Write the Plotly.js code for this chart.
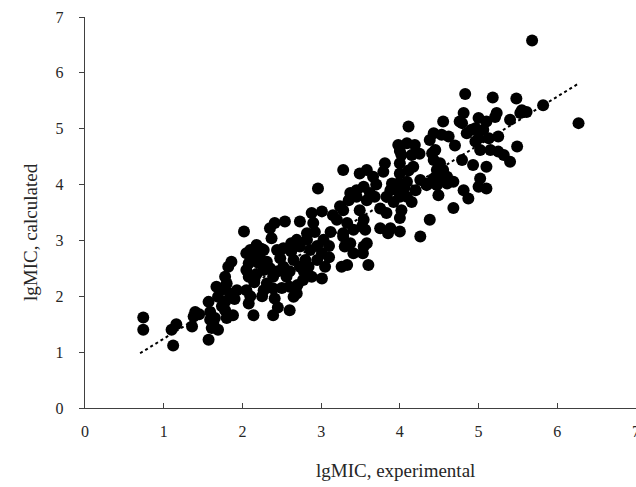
<!DOCTYPE html>
<html>
<head>
<meta charset="utf-8">
<script src="https://cdn.plot.ly/plotly-3.0.1.min.js"></script>
<style>html,body{margin:0;padding:0;background:#fff;}#chart{width:636px;height:487px;}</style>
</head>
<body>
<div id="chart"></div>
<script>
// lgMIC experimental (x) vs calculated (y)
const expX = [
0.74,0.74,1.12,1.10,1.16,1.36,1.38,1.40,1.45,1.57,1.57,1.59,1.59,1.61,1.65,1.69,1.63,1.72,1.80,1.78,
1.82,1.86,1.69,1.78,1.78,1.80,1.88,1.74,1.67,1.93,1.84,1.90,2.02,2.05,2.10,2.08,2.08,2.05,2.08,2.14,
2.05,2.10,2.18,2.27,2.37,2.35,2.41,2.54,2.44,2.52,2.48,2.31,2.27,2.31,2.39,2.52,2.39,2.41,2.39,2.60,
2.56,2.60,2.69,2.77,2.73,2.65,2.73,2.69,2.73,2.88,3.01,2.90,2.86,2.84,2.88,3.03,3.01,3.05,3.01,3.24,
3.28,3.30,3.26,2.82,2.82,2.27,2.65,2.20,2.22,2.35,2.45,2.60,2.62,2.80,2.78,2.95,2.95,3.10,3.10,2.96,
2.92,2.45,2.62,2.70,2.15,2.25,2.50,2.12,2.18,2.24,
3.28,3.35,3.49,3.58,3.66,3.54,3.45,3.81,3.79,3.98,4.09,4.19,4.02,4.15,4.00,4.00,3.98,3.88,3.83,3.75,
3.83,3.92,4.00,4.09,4.15,4.02,4.00,3.68,3.75,3.88,4.00,4.26,4.38,4.49,4.38,4.45,4.43,4.47,4.36,4.51,
4.60,3.28,3.33,3.28,3.41,3.49,3.58,3.54,3.56,3.58,3.54,3.37,3.33,3.60,3.52,3.41,3.53,3.20,3.37,3.45,
3.90,3.96,4.09,3.85,3.62,3.70,4.11,4.06,3.15,3.12,4.00,
4.11,4.55,4.81,4.79,5.00,5.10,4.96,5.06,5.13,5.00,5.23,5.40,5.53,5.25,5.49,5.02,5.15,5.25,5.32,5.40,
4.93,5.10,4.79,4.43,4.53,4.62,4.41,4.51,4.55,4.60,4.43,4.34,4.47,4.68,4.81,4.87,5.00,5.10,5.02,4.68,
4.83,5.18,5.48,5.82,5.55,5.61,5.21,4.76,4.91,4.85,4.96,4.26,4.17,5.68,6.27,4.70,4.25,4.20
];
const calcY = [
1.62,1.40,1.12,1.40,1.50,1.46,1.64,1.72,1.68,1.22,1.90,1.72,1.58,1.43,1.61,1.40,1.52,2.11,2.23,2.35,
2.53,2.62,1.99,1.90,1.75,1.61,1.66,1.82,2.17,2.11,2.05,1.95,3.16,2.77,2.83,2.59,2.35,2.11,1.87,1.66,
2.47,2.00,2.92,2.83,3.04,3.22,3.31,3.34,2.83,2.86,2.68,2.62,2.47,2.23,2.35,2.53,2.14,1.96,1.66,1.75,
2.35,2.17,2.05,2.29,2.53,2.65,2.89,3.01,3.34,3.49,3.52,3.31,2.83,2.53,2.35,3.01,2.77,2.53,2.32,3.61,
3.13,2.89,2.53,3.13,3.01,2.11,1.99,2.60,2.75,2.50,2.45,2.45,2.80,2.65,2.45,2.65,2.90,2.70,2.90,3.93,
3.15,1.80,2.95,2.20,2.25,2.00,2.15,2.70,2.40,2.85,
4.26,3.72,4.20,4.26,4.14,3.96,3.90,4.38,4.23,4.71,4.74,4.71,4.53,4.53,4.38,4.20,4.02,3.90,3.78,3.57,
3.49,3.69,3.78,3.78,3.69,3.54,3.40,3.78,3.22,3.22,3.16,3.07,3.37,3.81,4.80,4.62,4.44,4.26,4.02,4.08,
4.02,3.54,3.31,3.07,3.19,3.54,3.72,3.37,3.19,2.95,2.89,2.95,2.56,2.56,3.25,2.77,2.77,3.37,3.85,3.78,
4.02,3.90,4.05,3.13,3.85,4.00,4.25,3.95,3.45,3.15,4.60,
5.04,5.13,5.28,5.10,5.19,5.13,5.01,4.98,4.83,4.83,5.28,5.16,5.28,4.86,4.68,4.62,4.62,4.59,4.53,4.41,
4.35,4.32,4.44,4.92,4.89,4.86,4.56,4.38,4.26,4.14,4.11,3.99,3.99,4.05,3.90,3.75,3.96,3.93,4.11,3.58,
5.62,5.56,5.54,5.42,5.33,5.30,5.21,5.13,4.98,4.92,4.77,4.08,4.32,6.58,5.10,4.70,4.55,3.90
];
// linear trend line end points
const trendX = [0.70, 6.26];
const trendY = [0.98, 5.80];

const tickVals = [0,1,2,3,4,5,6,7];
const tickText = ['0','1','2','3','4','5','6','7'];
const xTitle = 'lgMIC, experimental';
const yTitle = 'lgMIC, calculated';

const serif = 'Liberation Serif, Times New Roman, serif';
const txtColor = '#262626';

const data = [
  {x: expX, y: calcY, type: 'scatter', mode: 'markers',
   marker: {color: '#000000', size: 12, line: {width: 0}}, cliponaxis: false, hoverinfo: 'x+y'},
  {x: trendX, y: trendY, type: 'scatter', mode: 'lines',
   line: {color: '#000000', width: 2, dash: 'dot'}, hoverinfo: 'skip'}
];

const layout = {
  width: 636, height: 487,
  margin: {l: 85, r: 0, t: 17, b: 79},
  paper_bgcolor: '#ffffff', plot_bgcolor: '#ffffff',
  showlegend: false,
  font: {family: serif, size: 16, color: txtColor},
  xaxis: {range: [0, 7], tickvals: tickVals, ticktext: tickText, showgrid: false, zeroline: false,
    showline: true, linecolor: '#404040', linewidth: 1.3, ticks: 'inside', ticklen: 5, tickcolor: '#404040',
    ticklabelstandoff: 8, tickfont: {family: serif, size: 16, color: txtColor}, fixedrange: true},
  yaxis: {range: [0, 7], tickvals: tickVals, ticktext: tickText, showgrid: false, zeroline: false,
    showline: true, linecolor: '#404040', linewidth: 1.3, ticks: 'outside', ticklen: 5, tickcolor: '#404040',
    ticklabelstandoff: 12, tickfont: {family: serif, size: 16, color: txtColor}, fixedrange: true},
  annotations: [
    {text: tickText[7], xref: 'x', yref: 'paper', x: tickVals[7], y: -(431-408)/391,
     xanchor: 'center', yanchor: 'middle', showarrow: false, font: {family: serif, size: 16, color: txtColor}},
    {text: xTitle, xref: 'paper', yref: 'paper', x: (395-85)/551, y: -(470-408)/391,
     xanchor: 'center', yanchor: 'middle', showarrow: false, font: {family: serif, size: 19, color: txtColor}},
    {text: yTitle, xref: 'paper', yref: 'paper', x: -(85-30)/551, y: (408-232)/391, textangle: -90,
     xanchor: 'center', yanchor: 'middle', showarrow: false, font: {family: serif, size: 19, color: txtColor}}
  ]
};

Plotly.newPlot('chart', data, layout, {displayModeBar: false, staticPlot: true});
</script>
</body>
</html>
